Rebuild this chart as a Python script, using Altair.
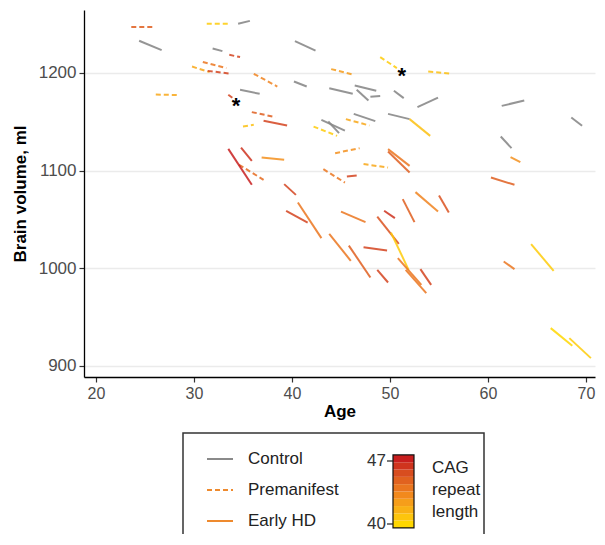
import altair as alt
import pandas as pd

FONT = "Liberation Sans"

# ---------------- data ----------------
# Controls
ctrl_age1 = [24.4, 34.5, 31.9, 34.7, 40.3, 40.2, 43.8, 46.4, 46.6, 48.0, 50.4, 52.8, 49.8, 46.3, 43.0, 43.7, 61.4, 68.5, 61.3]
ctrl_age2 = [26.7, 35.7, 32.9, 36.7, 42.4, 41.5, 46.2, 48.6, 47.8, 49.0, 51.4, 54.9, 52.0, 48.5, 45.4, 44.8, 63.7, 69.6, 62.4]
ctrl_vol1 = [1232.8, 1250.2, 1224.9, 1182.6, 1232.4, 1191.1, 1184.3, 1187.0, 1182.6, 1175.4, 1181.6, 1164.9, 1158.0, 1158.0, 1151.9, 1150.2, 1166.2, 1154.2, 1134.8]
ctrl_vol2 = [1223.2, 1253.2, 1222.2, 1178.5, 1222.8, 1186.0, 1178.5, 1181.6, 1171.7, 1176.2, 1174.1, 1174.7, 1152.6, 1150.6, 1140.9, 1138.3, 1171.6, 1145.8, 1122.9]

# Premanifest
pre_age1 = [23.6, 31.3, 33.6, 30.9, 29.8, 31.4, 36.1, 26.1, 33.5, 35.9, 35.0, 49.0, 44.0, 53.9, 45.5, 42.2, 44.4, 47.3, 43.2, 34.6]
pre_age2 = [26.0, 33.6, 34.7, 33.3, 31.6, 33.8, 38.5, 28.5, 34.1, 38.3, 36.1, 50.7, 46.3, 56.3, 47.9, 44.6, 46.9, 49.8, 45.4, 37.1]
pre_vol1 = [1246.8, 1250.2, 1218.4, 1211.0, 1206.4, 1202.0, 1199.0, 1177.8, 1177.5, 1159.8, 1145.0, 1216.1, 1203.8, 1201.3, 1152.6, 1145.0, 1117.8, 1106.6, 1101.4, 1105.9]
pre_vol2 = [1246.8, 1250.2, 1216.1, 1204.8, 1200.7, 1199.0, 1186.0, 1177.2, 1173.1, 1154.7, 1146.8, 1204.8, 1198.0, 1199.0, 1146.1, 1135.5, 1122.9, 1103.1, 1087.7, 1090.5]
pre_cag = [45, 40.5, 46, 44, 42, 46, 43.5, 42, 46, 45, 41, 40.5, 42.5, 41, 42, 40.5, 43, 42, 44, 44.5]

# Early HD
hd_age1 = [37.1, 52.0, 62.3, 49.8, 49.8, 45.6, 60.3, 33.5, 34.8, 36.9, 39.2, 39.4, 40.6, 43.8, 45.0, 45.8, 49.4, 48.7, 47.3, 50.1, 50.8, 51.6, 48.7, 53.1, 51.3, 52.6, 55.0, 64.4, 61.6, 66.4, 68.3]
hd_age2 = [39.5, 54.1, 63.3, 52.0, 52.0, 46.6, 62.7, 35.9, 35.9, 39.2, 40.4, 41.6, 43.0, 46.0, 47.5, 48.0, 50.5, 50.9, 49.7, 51.9, 53.2, 53.7, 49.8, 54.2, 52.5, 54.9, 56.0, 66.7, 62.7, 68.6, 70.5]
hd_vol1 = [1150.9, 1152.6, 1113.7, 1121.9, 1119.5, 1093.9, 1092.8, 1122.2, 1123.5, 1113.3, 1086.1, 1058.8, 1067.3, 1035.2, 1058.0, 1023.2, 1058.8, 1052.9, 1021.6, 1036.5, 1010.3, 998.4, 998.4, 999.1, 1070.7, 1077.9, 1074.4, 1024.7, 1006.9, 938.7, 928.5]
hd_vol2 = [1146.1, 1135.5, 1108.6, 1104.8, 1098.0, 1094.9, 1085.4, 1085.4, 1109.9, 1111.0, 1075.1, 1046.8, 1030.8, 1007.6, 1047.2, 990.5, 1051.3, 1025.0, 1018.1, 998.4, 983.0, 974.5, 985.4, 983.0, 1047.2, 1058.0, 1057.0, 997.3, 999.1, 920.6, 908.0]
hd_cag = [46, 41, 43, 44, 45, 46, 45, 47, 46.5, 43, 46, 46, 44, 44, 44, 45, 46.5, 45.5, 46, 40.5, 44, 44, 46, 46, 45, 43.5, 45.5, 40.5, 44, 40, 40.5]

# asterisk markers
star_age = [34.3, 51.2]
star_vol = [1170.6, 1201.3]

x_ticks = [20, 30, 40, 50, 60, 70]
y_ticks = [900, 1000, 1100, 1200]
group_labels = ["Control", "Premanifest", "Early HD"]
cag_limits = [40, 47]
cag_title = ["CAG", "repeat", "length"]

# ---------------- layout / styles ----------------
W, H = 511, 367
PX_PER_YEAR = 9.80
X_DOMAIN = [20 - 12 / PX_PER_YEAR, 20 - 12 / PX_PER_YEAR + W / PX_PER_YEAR]
Y_DOMAIN = [888.7, 1264.3]
GRAY = "#8a8a8a"
LEG_ORANGE = "#EE8A2E"

x_scale = alt.Scale(domain=X_DOMAIN, nice=False, zero=False)
y_scale = alt.Scale(domain=Y_DOMAIN, nice=False, zero=False)
cag_scale = alt.Scale(domain=[40, 43.5, 47], range=["#FFD700", "#F0821E", "#C81E1E"],
                      clamp=True, interpolate="lab")

x_enc = alt.X("age1:Q", scale=x_scale,
              axis=alt.Axis(values=x_ticks, title="Age", grid=False, titlePadding=2,
                            labelPadding=3, format="d", labelFontSize=16))
y_enc = alt.Y("vol1:Q", scale=y_scale,
              axis=alt.Axis(values=y_ticks, title="Brain volume, ml", grid=True,
                            gridColor="#EBEBEB", gridWidth=1.5, titlePadding=9,
                            labelPadding=3, format="d"))

ctrl_df = pd.DataFrame({"age1": ctrl_age1, "age2": ctrl_age2, "vol1": ctrl_vol1, "vol2": ctrl_vol2})
pre_df = pd.DataFrame({"age1": pre_age1, "age2": pre_age2, "vol1": pre_vol1, "vol2": pre_vol2, "cag": pre_cag})
hd_df = pd.DataFrame({"age1": hd_age1, "age2": hd_age2, "vol1": hd_vol1, "vol2": hd_vol2, "cag": hd_cag})
star_df = pd.DataFrame({"age1": star_age, "vol1": star_vol})

ctrl_layer = alt.Chart(ctrl_df).mark_rule(strokeWidth=2, opacity=0.9, color=GRAY).encode(
    x=x_enc, x2="age2:Q", y=y_enc, y2="vol2:Q")
pre_layer = alt.Chart(pre_df).mark_rule(strokeWidth=2, opacity=0.85, strokeDash=[5, 3]).encode(
    x=x_enc, x2="age2:Q", y=y_enc, y2="vol2:Q",
    color=alt.Color("cag:Q", scale=cag_scale, legend=None))
hd_layer = alt.Chart(hd_df).mark_rule(strokeWidth=2, opacity=0.85).encode(
    x=x_enc, x2="age2:Q", y=y_enc, y2="vol2:Q",
    color=alt.Color("cag:Q", scale=cag_scale, legend=None))
star_layer = alt.Chart(star_df).mark_text(text="*", fontSize=22, fontWeight="bold", font=FONT,
                                          color="black", baseline="alphabetic", dy=11).encode(
    x=x_enc, y=y_enc)

layers = [ctrl_layer, pre_layer, hd_layer, star_layer]

one = pd.DataFrame({"k": [0]})

# ---------------- legend (drawn below the plot) ----------------
layers.append(alt.Chart(one).mark_rect(fill="transparent", stroke="#333333", strokeWidth=1.5).encode(
    x=alt.value(99), x2=alt.value(400), y=alt.value(423), y2=alt.value(560)))

sample_y = [449, 480, 511]
sample_style = [dict(color=GRAY), dict(color=LEG_ORANGE, strokeDash=[5, 3]), dict(color=LEG_ORANGE)]
for lab, yy, sty in zip(group_labels, sample_y, sample_style):
    layers.append(alt.Chart(one).mark_rule(strokeWidth=2, **sty).encode(
        x=alt.value(123), x2=alt.value(149), y=alt.value(yy)))
    layers.append(alt.Chart(one).mark_text(text=lab, font=FONT, fontSize=17, color="#222222",
                                           align="left", baseline="middle").encode(
        x=alt.value(164), y=alt.value(yy)))

# colour bar
BAR_X0, BAR_X1 = 309, 330
Y40, PX_PER_UNIT = 514, 9.0
bar_lo, bar_hi, n_bands = 39.56, 47.67, 10
step = (bar_hi - bar_lo) / n_bands
for i in range(n_bands):
    lo = bar_lo + i * step
    hi = lo + step
    layers.append(alt.Chart(pd.DataFrame({"cag": [(lo + hi) / 2]})).mark_rect().encode(
        x=alt.value(BAR_X0), x2=alt.value(BAR_X1),
        y=alt.value(Y40 - (hi - 40) * PX_PER_UNIT), y2=alt.value(Y40 - (lo - 40) * PX_PER_UNIT),
        color=alt.Color("cag:Q", scale=cag_scale, legend=None)))
layers.append(alt.Chart(one).mark_rect(fill="transparent", stroke="#111111", strokeWidth=1.2).encode(
    x=alt.value(BAR_X0), x2=alt.value(BAR_X1),
    y=alt.value(Y40 - (bar_hi - 40) * PX_PER_UNIT), y2=alt.value(Y40 - (bar_lo - 40) * PX_PER_UNIT)))
for v in cag_limits:
    yy = Y40 - (v - 40) * PX_PER_UNIT
    layers.append(alt.Chart(one).mark_rule(strokeWidth=1.2, color="#222222").encode(
        x=alt.value(BAR_X0 - 6), x2=alt.value(BAR_X0), y=alt.value(yy)))
    layers.append(alt.Chart(one).mark_text(text=str(v), font=FONT, fontSize=17, color="#333333",
                                           align="right", baseline="middle").encode(
        x=alt.value(BAR_X0 - 7), y=alt.value(yy)))
layers.append(alt.Chart(one).mark_text(text=cag_title, font=FONT, fontSize=17, color="#222222",
                                       align="left", baseline="middle", lineHeight=22).encode(
    x=alt.value(348), y=alt.value(458)))

chart = alt.layer(*layers).properties(
    width=W, height=H,
    padding={"left": 76, "top": 2, "right": 2, "bottom": 157},
    autosize=alt.AutoSizeParams(type="none"),
).configure_axis(
    labelFont=FONT, titleFont=FONT, labelFontSize=17, titleFontSize=17,
    labelColor="#4D4D4D", titleColor="black", titleFontWeight="bold",
    domainColor="black", domainWidth=1.3, tickColor="#333333", tickSize=5, tickWidth=1.2,
).configure_view(stroke="transparent")

chart.save("out.html", embed_options={"renderer": "svg", "actions": False})
